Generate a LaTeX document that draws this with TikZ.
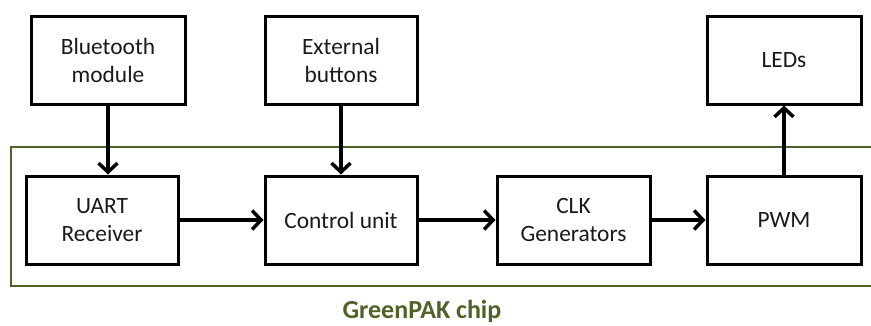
\documentclass[tikz,border=0pt]{standalone}
\usepackage{fontspec}
\setmainfont{Carlito}
\usetikzlibrary{arrows.meta}
\definecolor{chipgreen}{HTML}{4F6228}
\definecolor{txt}{HTML}{1A1A1A}
\begin{document}
\begin{tikzpicture}[x=1pt,y=-1pt,
  blk/.style={draw=black, line width=3pt, minimum height=88pt, align=center,
    text=txt, font=\fontsize{23.4}{28}\selectfont, inner sep=0pt},
  arr/.style={line width=3.5pt, -{Straight Barb[length=9pt,width=19pt]}}]
\useasboundingbox (0,0) rectangle (871,325);
% chip outline (open at right edge)
\draw[chipgreen, line width=2.5pt] (875,147) -- (11,147) -- (11,286) -- (875,286);
\node[blk, minimum width=154pt] (bt)   at (108,60)   {Bluetooth\\module};
\node[blk, minimum width=152pt] (ext)  at (341,60)   {External\\buttons};
\node[blk, minimum width=154pt] (led)  at (784,60)   {LEDs};
\node[blk, minimum width=152pt] (uart) at (102,220)  {UART\\Receiver};
\node[blk, minimum width=152pt] (ctrl) at (341,220)  {Control unit};
\node[blk, minimum width=153pt] (clk)  at (573.5,220){CLK\\Generators};
\node[blk, minimum width=154pt] (pwm)  at (784,220)  {PWM};
\node[text=chipgreen, inner sep=0pt, font=\bfseries\fontsize{26}{30}\selectfont] (chip) at (422,311) {GreenPAK chip};
\draw[arr] (bt.south) -- (bt.south |- uart.north);
\draw[arr] (ext.south) -- (ext.south |- ctrl.north);
\draw[arr] (pwm.north) -- (led.south);
\draw[arr] (uart.east) -- (ctrl.west);
\draw[arr] (ctrl.east) -- (clk.west);
\draw[arr] (clk.east) -- (pwm.west);
\end{tikzpicture}
\end{document}
